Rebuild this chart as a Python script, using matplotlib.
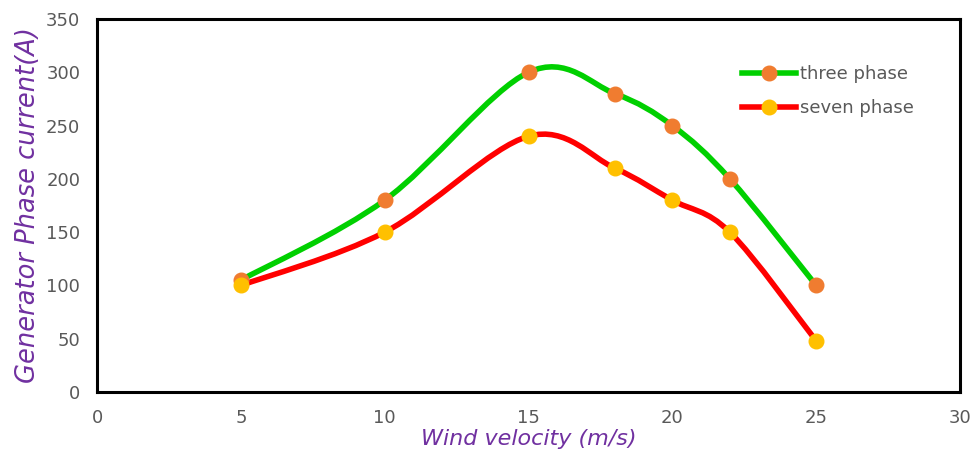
import numpy as np
import matplotlib
matplotlib.use("Agg")
from matplotlib import pyplot as plt
from matplotlib.path import Path
from matplotlib.patches import PathPatch
from matplotlib.lines import Line2D

# data
wind = [5, 10, 15, 18, 20, 22, 25]
three_phase = [105, 180, 300, 280, 250, 200, 100]
seven_phase = [100, 150, 240, 210, 180, 150, 48]


def smooth_path(x, y):
    """Excel-style smoothed line as cubic Bezier segments."""
    p = np.column_stack([x, y]).astype(float)
    n = len(p)
    verts = [p[0]]
    codes = [Path.MOVETO]
    for i in range(n - 1):
        p0 = p[i - 1] if i > 0 else p[i]
        p1 = p[i]
        p2 = p[i + 1]
        p3 = p[i + 2] if i + 2 < n else p[i + 1]
        c1 = p1 + (p2 - p0) / 6.0
        c2 = p2 - (p3 - p1) / 6.0
        verts += [c1, c2, p2]
        codes += [Path.CURVE4] * 3
    return Path(verts, codes)


def main():
    fig = plt.figure(figsize=(9.77, 4.65), dpi=100)
    ax = fig.add_axes([0.0993, 0.157, 0.8833, 0.802])

    series = [(three_phase, "#00D000", "#F07C30", "three phase"),
              (seven_phase, "#FF0000", "#FFC000", "seven phase")]
    handles = []
    for yv, lc, mc, lab in series:
        patch = PathPatch(smooth_path(wind, yv), facecolor="none",
                          edgecolor=lc, lw=4.0, capstyle="round", zorder=2)
        ax.add_patch(patch)
        ax.plot(wind, yv, linestyle="none", marker="o", markersize=10.5,
                markerfacecolor=mc, markeredgecolor=mc, zorder=3)
        handles.append(Line2D([], [], color=lc, lw=4.0, marker="o",
                              markersize=10.5, markerfacecolor=mc,
                              markeredgecolor=mc, label=lab))

    ax.set_xlim(0, 30)
    ax.set_ylim(0, 350)
    ax.set_xticks(range(0, 31, 5))
    ax.set_yticks(range(0, 351, 50))
    ax.tick_params(length=0, labelsize=13, labelcolor="#595959", pad=12)
    for s in ax.spines.values():
        s.set_color("black")
        s.set_linewidth(2.2)

    ax.set_xlabel("Wind velocity (m/s)", fontsize=16, style="italic",
                  color="#7030A0", labelpad=2)
    ax.set_ylabel("Generator Phase current(A)", fontsize=18.5, style="italic",
                  color="#7030A0", labelpad=4)

    leg = ax.legend(handles=handles, loc="upper right",
                    bbox_to_anchor=(0.965, 0.92), frameon=False, fontsize=13,
                    handlelength=3.0, labelspacing=0.9, handletextpad=0.2)
    for t in leg.get_texts():
        t.set_color("#595959")

    fig.savefig("out.png", dpi=100)


if __name__ == "__main__":
    main()
